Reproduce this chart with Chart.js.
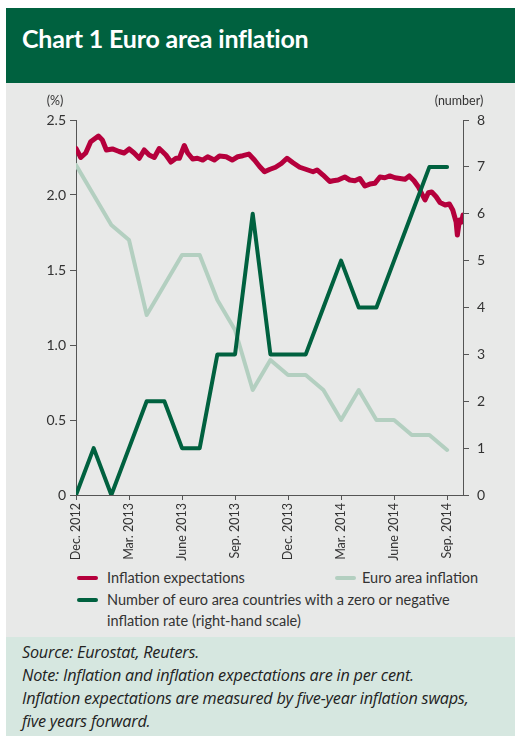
<!DOCTYPE html>
<html>
<head>
<meta charset="utf-8">
<script src="https://cdn.jsdelivr.net/npm/chart.js@4"></script>
<style>
  body { margin: 0; background: #fff; font-family: Lato, "Open Sans", sans-serif; }
  #wrap { position: relative; width: 515px; height: 736px; overflow: hidden; }
  #head { position: absolute; left: 6px; top: 8px; width: 509px; height: 75px; background: #00613f; }
  #head h1 { margin: 0; position: absolute; left: 16px; top: 15px; color: #fff; font: bold 25px Lato, sans-serif; letter-spacing: -0.2px; }
  #panel { position: absolute; left: 6px; top: 83px; width: 509px; height: 554px; background: #e8e9e8; }
  #panel canvas { position: absolute; left: 0; top: 0; }
  .leg { position: absolute; font-size: 14.5px; color: #333; line-height: 21px; }
  .sw { position: absolute; width: 21px; height: 4px; border-radius: 2px; }
  #src { position: absolute; left: 6px; top: 637px; width: 509px; height: 99px; background: #d6e7e0; }
  #src p { margin: 0; position: absolute; left: 16px; top: 4px; font: italic 16.2px/23px "Open Sans", sans-serif; color: #222; letter-spacing: -0.2px; white-space: nowrap; }
</style>
</head>
<body>
<div id="wrap">
  <div id="head"><h1>Chart 1 Euro area inflation</h1></div>
  <div id="panel">
    <canvas id="chart" width="509" height="482"></canvas>
    <div class="sw" style="left:71px;top:493px;background:#b5003c"></div>
    <div class="leg" style="left:101px;top:484px">Inflation expectations</div>
    <div class="sw" style="left:329px;top:493px;background:#b3cfc0"></div>
    <div class="leg" style="left:356px;top:484px">Euro area inflation</div>
    <div class="sw" style="left:71px;top:515px;background:#00613f"></div>
    <div class="leg" style="left:101px;top:506px">Number of euro area countries with a zero or negative<br>inflation rate (right-hand scale)</div>
  </div>
  <div id="src"><p>Source: Eurostat, Reuters.<br>Note: Inflation and inflation expectations are in per cent.<br>Inflation expectations are measured by five-year inflation swaps,<br>five years forward.</p></div>
</div>
<script>
// months counted from Dec. 2012
const tickMonths = [0, 3, 6, 9, 12, 15, 18, 21];
const tickLabels = ['Dec. 2012', 'Mar. 2013', 'June 2013', 'Sep. 2013', 'Dec. 2013', 'Mar. 2014', 'June 2014', 'Sep. 2014'];

const months = [0, 1, 2, 3, 4, 5, 6, 7, 8, 9, 10, 11, 12, 13, 14, 15, 16, 17, 18, 19, 20, 21];
const euroInflation = [2.2, 2.0, 1.8, 1.7, 1.2, 1.4, 1.6, 1.6, 1.3, 1.1, 0.7, 0.9, 0.8, 0.8, 0.7, 0.5, 0.7, 0.5, 0.5, 0.4, 0.4, 0.3];
const zeroOrNegative = [0, 1, 0, 1, 2, 2, 1, 1, 3, 3, 6, 3, 3, 3, 4, 5, 4, 4, 5, 6, 7, 7];

const expMonths = [0, 0.27, 0.55, 0.83, 1.27, 1.49, 1.72, 2.06, 2.44, 2.72, 3.01, 3.29, 3.58, 3.86, 4.14, 4.43, 4.71,
  5.09, 5.37, 5.66, 5.85, 6.13, 6.32, 6.6, 6.87, 7.17, 7.45, 7.83, 8.12, 8.5, 8.84, 9.15, 9.44, 9.78, 10.1, 10.39,
  10.67, 10.95, 11.29, 11.62, 11.94, 12.28, 12.66, 13.04, 13.41, 13.64, 13.98, 14.36, 14.55, 14.83, 15.21, 15.49,
  15.78, 16.06, 16.35, 16.63, 16.91, 17.2, 17.48, 17.76, 18.05, 18.33, 18.62, 18.86, 19.13, 19.37, 19.56, 19.75,
  19.94, 20.13, 20.37, 20.6, 20.89, 21.13, 21.32, 21.51, 21.58, 21.7, 21.82, 21.9];
const expValues = [2.31, 2.25, 2.28, 2.355, 2.393, 2.367, 2.3, 2.307, 2.29, 2.28, 2.307, 2.28, 2.245, 2.3, 2.267, 2.25, 2.31,
  2.267, 2.22, 2.245, 2.245, 2.33, 2.28, 2.24, 2.245, 2.233, 2.255, 2.233, 2.26, 2.255, 2.233, 2.255, 2.262, 2.273, 2.233, 2.19,
  2.155, 2.17, 2.185, 2.21, 2.245, 2.215, 2.185, 2.17, 2.155, 2.167, 2.133, 2.09, 2.095, 2.1, 2.12, 2.1,
  2.095, 2.11, 2.06, 2.073, 2.078, 2.12, 2.115, 2.127, 2.115, 2.11, 2.105, 2.127, 2.095, 2.055, 2.01, 1.967,
  2.015, 2.02, 1.99, 1.95, 1.933, 1.94, 1.9, 1.82, 1.733, 1.833, 1.82, 1.867];

const toXY = (xs, ys) => xs.map((x, i) => ({ x: x, y: ys[i] }));
const axisColor = '#555';
const tickFont = { family: 'Lato', size: 14 };

const unitLabels = {
    id: 'unitLabels',
    afterDraw(chart) {
        const { ctx, chartArea } = chart;
        ctx.save();
        ctx.fillStyle = '#333';
        ctx.font = '12.5px Lato';
        ctx.textAlign = 'center';
        ctx.textBaseline = 'middle';
        ctx.fillText('(%)', chartArea.left - 21, chartArea.top - 19);
        ctx.fillText('(number)', chartArea.right - 4, chartArea.top - 19);
        ctx.restore();
    }
};

new Chart(document.getElementById('chart'), {
    type: 'line',
    data: {
        datasets: [{
            label: 'Number of euro area countries with a zero or negative inflation rate (right-hand scale)',
            data: toXY(months, zeroOrNegative),
            yAxisID: 'y1',
            borderColor: '#00613f',
            borderWidth: 4,
            order: 0
        }, {
            label: 'Inflation expectations',
            data: toXY(expMonths, expValues),
            yAxisID: 'y',
            borderColor: '#b5003c',
            borderWidth: 5,
            order: 1
        }, {
            label: 'Euro area inflation',
            data: toXY(months, euroInflation),
            yAxisID: 'y',
            borderColor: '#b3cfc0',
            borderWidth: 4,
            order: 2
        }]
    },
    options: {
        responsive: false,
        animation: false,
        layout: { padding: { top: 37, left: 0, right: 0, bottom: 0 } },
        elements: {
            point: { radius: 0 },
            line: { tension: 0, borderCapStyle: 'round', borderJoinStyle: 'round' }
        },
        plugins: { legend: { display: false }, tooltip: { enabled: false } },
        scales: {
            x: {
                type: 'linear',
                min: 0,
                max: 21.9,
                afterBuildTicks: s => { s.ticks = tickMonths.map(v => ({ value: v })); },
                afterFit: s => { s.height = 70; },
                ticks: {
                    callback: v => tickLabels[tickMonths.indexOf(v)],
                    minRotation: 90,
                    maxRotation: 90,
                    padding: 3,
                    color: '#333',
                    font: { family: 'Lato', size: 12.5 }
                },
                grid: { drawOnChartArea: false, tickLength: 5, color: axisColor },
                border: { color: axisColor }
            },
            y: {
                position: 'left',
                min: 0,
                max: 2.5,
                afterFit: s => { s.width = 70; },
                ticks: {
                    stepSize: 0.5,
                    callback: v => v === 0 ? '0' : v.toFixed(1),
                    padding: 4,
                    color: '#333',
                    font: tickFont
                },
                grid: { drawOnChartArea: false, tickLength: 6, color: axisColor },
                border: { color: axisColor }
            },
            y1: {
                position: 'right',
                min: 0,
                max: 8,
                afterFit: s => { s.width = 52; },
                ticks: { stepSize: 1, padding: 8, color: '#333', font: tickFont },
                grid: { drawOnChartArea: false, tickLength: 6, color: axisColor },
                border: { color: axisColor }
            }
        }
    },
    plugins: [unitLabels]
});
</script>
</body>
</html>
